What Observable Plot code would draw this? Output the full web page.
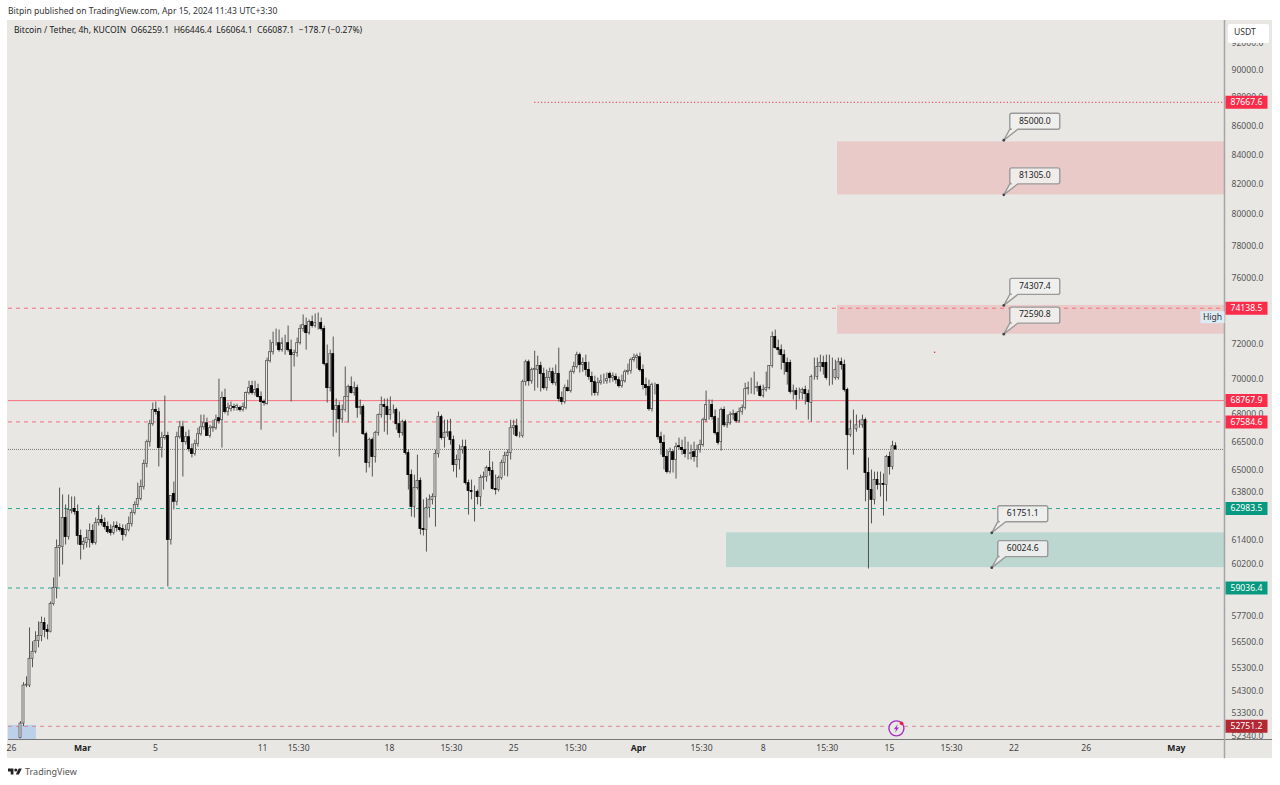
<!DOCTYPE html>
<html>
<head>
<meta charset="utf-8">
<script src="https://cdn.jsdelivr.net/npm/d3@7"></script>
<script src="https://cdn.jsdelivr.net/npm/@observablehq/plot@0.6"></script>
<style>
html,body{margin:0;padding:0;background:#fff;font-family:"Noto Sans",sans-serif;}
#page{position:relative;width:1280px;height:785px;overflow:hidden;}
#head{height:20px;line-height:23px;padding-left:8px;font-size:8.6px;color:#333;box-sizing:border-box;white-space:nowrap;}
#chart svg{display:block;}
#foot{position:absolute;left:8px;top:765px;display:flex;align-items:center;gap:3px;font-size:9px;color:#555;}
#unit{position:absolute;left:1228px;top:24px;width:41px;height:19px;line-height:17px;background:#fff;border-radius:2px;font-size:8.6px;color:#333;text-align:left;padding-left:6px;box-sizing:border-box;}
</style>
</head>
<body>
<div id="page">
<div id="head">Bitpin published on TradingView.com, Apr 15, 2024 11:43 UTC+3:30</div>
<div id="chart"></div>
<div id="unit">USDT</div>
<div id="foot"><svg width="14" height="11" viewBox="0 4 36 20"><path fill="#222" d="M14 6H0v8h7v8h7V6Zm14 16h-8l7.5-16h8L28 22Z"/><circle fill="#222" cx="20" cy="10" r="4"/></svg><span>TradingView</span></div>
</div>
<script>
const opens = [
52250,52870,54530,54530,55730,56050,56550,56780,57380,57060,
56970,58280,59040,60990,61040,62500,61540,62860,62960,62810,
61590,61140,61240,61390,61840,61240,62250,62400,62250,62040,
61890,61740,62090,61990,61940,61640,61890,62200,62760,63170,
63480,64100,65310,66480,67460,68240,68130,66160,66700,66810,
61390,63740,63330,66750,67290,66480,66750,66100,65840,66370,
66910,67290,67510,66810,67240,67240,67790,67680,68910,68130,
68290,68410,68350,68350,68240,68350,69190,69580,69190,69410,
68970,68690,68570,71010,71530,72060,72060,71650,72060,72060,
71650,71360,71480,72060,72890,73070,72650,73310,73070,73250,
73250,72890,70840,69470,71420,68240,68460,67730,68240,68970,
69530,69190,69470,68350,68410,66910,65360,66590,65680,66970,
67960,68520,68410,67960,68240,68240,67460,66970,67570,65890,
64720,63070,64040,64410,61940,61890,63010,63430,63580,65840,
67850,66700,66970,67020,66590,65250,65520,66050,66210,64300,
63890,63840,63840,63580,64570,64620,65100,64940,63990,63940,
64570,65360,65730,65890,67240,67350,66810,66810,69810,70950,
69860,70500,70500,70730,70270,69470,70040,70380,69750,70270,
68910,68690,69470,69300,70380,70670,71360,70790,70900,70500,
70100,69810,69190,69750,69860,69860,70270,70040,70100,69920,
69580,69860,70380,70440,71070,71190,71240,70500,69640,69530,
68290,69640,69640,66750,66430,65680,64880,65940,65520,66260,
66160,66050,65840,65840,65940,65680,66050,66320,67680,68520,
68520,67850,66970,66480,68240,67400,67510,67960,68020,67620,
68130,68350,69410,69470,69470,69470,69530,69020,69360,69470,
70730,72420,71770,71650,71360,70900,70900,69250,69300,69190,
69190,69360,69130,68630,70100,70100,70670,70900,70900,70040,
70040,70040,70040,70950,70790,69360,66860,67180,67180,67400,
67400,67680,64830,63940,63430,64460,64200,64250,64200,65680,
65150,66259.1];
const highs = [
52950,54660,54920,57150,56510,56970,57430,57660,57610,57290,
58370,59520,61390,64040,63680,63170,63680,63580,63580,63170,
61890,61490,61890,62200,62150,62500,63120,62650,62500,62300,
62150,62300,62300,62200,62150,62150,62550,62910,63330,64300,
64460,65520,66590,67680,68630,68690,68350,67020,69020,67020,
63430,64360,67020,67620,67620,67020,67130,66370,66590,67240,
67960,67960,67790,67400,67680,67960,69980,69250,69410,68630,
68690,68570,68570,68460,68630,69250,69860,69860,69860,69690,
69250,68800,71190,72240,72710,72890,72830,72360,72530,73070,
72240,71650,72360,73130,73730,73550,73430,73670,73790,73850,
73550,73070,71950,71650,72420,68860,68690,68520,70670,69640,
70100,69810,69640,68800,68520,67020,66700,66700,67070,68020,
68970,68860,68860,68970,68520,68350,68130,67680,67680,66050,
64990,64720,65780,64570,63430,63530,63680,63740,66050,68130,
67960,67680,67680,67730,66810,65780,66320,66590,66590,64460,
64460,64150,63940,64720,64880,65200,65990,65410,64720,64670,
65520,65940,66050,67680,67680,67730,67020,69920,71070,71070,
70610,71590,71300,70950,70610,70500,70610,70610,70790,71770,
69250,69640,69920,70500,70950,71530,71480,71190,71360,70950,
70380,70150,70040,70210,70270,70330,70380,70330,70270,70100,
70210,70500,70840,71190,71420,71420,71480,70790,70040,69920,
69750,69750,69690,67020,66860,66050,66160,66050,66430,66700,
66590,66750,66480,66320,66480,66320,66590,67790,69300,68800,
68800,68240,67790,68350,68410,67960,68130,68240,68130,68350,
68520,69750,69810,70040,70380,69810,69640,69640,70380,70730,
72710,72830,72240,71950,71650,71190,71070,69640,69470,69470,
69470,69580,69360,70210,71190,71190,71360,71300,71360,71360,
71190,71070,71190,71190,71070,69470,67680,68240,67960,67680,
67960,67790,65630,64990,64880,64880,64880,64780,65780,65940,
66530,66446.4];
const lows = [
52220,52740,54440,54440,55330,55960,56230,56510,56690,56600,
56920,58180,58520,59570,60150,61140,61390,62710,62650,61140,
60400,60890,60990,60990,61140,61140,62090,62090,61890,61690,
61590,61640,61790,61790,61340,61540,61790,62040,62650,63010,
63380,63940,65100,66210,67350,67960,65150,65630,66590,59090,
61140,62910,63120,66640,64620,66320,65940,65630,65730,66210,
66810,67130,66810,66700,67020,67130,67460,66160,68020,67910,
68130,68180,68180,68130,68130,68240,69080,69080,69020,68910,
67130,68460,68520,70900,71360,71890,71530,71530,71360,71530,
68690,70670,71240,71950,72710,71650,72530,72950,72950,72830,
72770,70730,68630,69250,66750,66970,65680,67510,68130,67510,
69130,69020,67790,67960,66860,64830,65100,64620,65360,66810,
67790,67020,66860,67680,68020,67130,66700,66810,65780,63940,
62550,62500,63940,61640,61590,60790,62500,63170,62040,65630,
66590,66160,66750,66320,64880,64570,64990,65840,64200,62650,
63430,62300,63170,63070,63940,64360,64670,63940,63680,63840,
64460,64670,64620,65520,66860,66750,66700,66700,69580,69580,
69690,69300,69470,69250,69360,69300,69860,69640,69580,68690,
68520,68570,69250,69190,70270,70560,70330,70380,70150,69920,
69020,69020,69020,69640,69690,69690,69750,69810,69690,69470,
69470,69750,70210,70270,70950,70560,70380,69360,69020,68180,
68130,69080,66590,65780,64990,64780,64780,64830,64510,66050,
65780,65630,65520,65520,65410,65100,65890,66210,67570,67680,
67680,66860,66320,66000,67290,67240,67400,67680,67510,67510,
67960,68240,69080,69130,69080,69250,68970,68910,69250,69360,
70610,71710,71360,70500,70210,69640,69130,68800,68240,68800,
68800,68520,67680,67570,69920,69920,70380,70210,69920,69580,
69640,69920,69920,70500,69250,64990,66750,65780,67020,67240,
67240,63330,59960,62200,63170,63940,63580,62600,63330,64720,
64990,66064.1];
const closes = [
52870,54530,54570,55730,56050,56550,56780,57380,57060,56970,
58280,59040,60990,61090,62500,61540,62910,62910,62810,61590,
61140,61290,61490,61840,61240,62250,62400,62250,62040,61790,
61740,62040,61990,61890,61640,61890,62200,62760,63170,63480,
64100,65310,66480,67460,68240,68130,66160,66700,66810,61390,
63630,63330,66750,67290,66480,66750,66100,65840,66370,66910,
67290,67510,66810,67240,67290,67680,67620,68910,68130,68350,
68460,68350,68460,68240,68410,69190,69470,69190,69360,68970,
68690,68630,71010,71530,72060,72060,71650,72060,72060,71650,
71360,71480,72060,72890,73130,72650,73310,73070,73250,73250,
72890,70840,69470,71420,68240,68460,67730,68240,68970,69530,
69190,69470,68350,68410,66910,65360,66590,65680,66970,67960,
68520,68410,67960,68240,68240,67460,66970,67570,65890,64720,
63070,64040,64410,61940,61890,63010,63430,63580,65840,67850,
66700,66970,67020,66590,65250,65520,66050,66210,64300,63890,
63840,63840,63580,64570,64620,65100,64940,63990,63940,64570,
65360,65730,65890,67240,67350,66810,66810,69810,70950,69860,
70500,70560,70730,70270,69470,70040,70380,69750,70270,68860,
68690,69470,69300,70380,70670,71360,70790,70900,70500,70100,
69810,69190,69750,69860,69860,69980,70040,70150,69920,69580,
69860,70380,70440,71070,71190,71300,70500,69640,69470,68290,
69640,69640,66750,66430,65680,64880,65940,65520,66210,66210,
66050,65840,65840,65890,65680,66050,66320,67680,68520,68520,
67850,66970,66430,68240,67400,67510,67960,68020,67620,68130,
68350,69410,69470,69470,69470,69530,69020,69360,69470,70730,
72420,71770,71650,71360,70900,70380,69250,69300,69080,69190,
69360,69130,68690,70100,70100,70670,70900,70670,70040,70040,
70040,70500,70950,70790,69360,66860,67180,67180,67400,67400,
67680,64830,63940,63430,64460,64200,64250,64200,65680,65150,
66260,66087.1];

const priceTicks = [92000,90000,88000,86000,84000,82000,80000,78000,76000,74000,72000,70000,68000,66500,65000,63800,62800,61400,60200,57700,56500,55300,54300,53300,52340];
const timeTicks = [-3,44.9,80.5,92.5,122.7,143.3,164,184.6,226.5,247,268.3,289,309.6,330.4,354.4];
const timeLabels = ["26","5","11","15:30","18","15:30","25","15:30","15:30","8","15:30","15","15:30","22","26"];
const monthTicks = [20.6,205.5,384.4];
const monthLabels = ["Mar","Apr","May"];

const tagPrices = [87667.6,74138.5,68767.9,67584.6,62983.5,59036.4,52751.2];
const tagColors = ["#fb2c4a","#fb2c4a","#fb2c4a","#fb2c4a","#089981","#089981","#b22833"];
const calloutPrices = [85000,81305,74307.4,72590.8,61751.1,60024.6];
const calloutBars = [327,327,327,327,323,323];

const bg = "#e8e7e4", ink = "#222", font = '"Noto Sans",sans-serif';
const bars = closes.map((c,i)=>({i,o:opens[i],h:highs[i],l:lows[i],c}));
const tags = tagPrices.map((v,i)=>({v,color:tagColors[i]}));
const callouts = calloutPrices.map((v,i)=>({v,bar:calloutBars[i]}));
const xMax = 400.4, yLow = 52189, yHigh = 93703;
const timeMap = new Map(timeTicks.map((t,i)=>[t,timeLabels[i]]));
const monthMap = new Map(monthTicks.map((t,i)=>[t,monthLabels[i]]));

const tagSymbol = {draw(c){c.moveTo(0,-6.5);c.lineTo(42,-6.5);c.lineTo(42,6.5);c.lineTo(0,6.5);c.closePath();}};
const highSymbol = {draw(c){c.moveTo(-24,-6);c.lineTo(0,-6);c.lineTo(0,6);c.lineTo(-24,6);c.closePath();}};
const bubbleSymbol = {draw(c){
  c.moveTo(0,0);c.lineTo(6,-11);c.lineTo(8,-11);
  c.arcTo(6,-11,6,-13,2);c.lineTo(6,-25);c.arcTo(6,-27,8,-27,2);
  c.lineTo(54,-27);c.arcTo(56,-27,56,-25,2);c.lineTo(56,-13);c.arcTo(56,-11,54,-11,2);
  c.lineTo(14,-11);c.closePath();}};
const boltSymbol = {draw(c){c.moveTo(1.5,-4.5);c.lineTo(-2.5,0.8);c.lineTo(-0.2,0.8);c.lineTo(-1.5,4.5);c.lineTo(2.5,-0.8);c.lineTo(0.2,-0.8);c.closePath();}};

const chart = Plot.plot({
  width:1280,height:738,marginTop:0,marginBottom:19,marginLeft:8,marginRight:56,
  style:{background:"linear-gradient(#e8e7e4,#e8e7e4) no-repeat 7px 0/1265px 100%",fontFamily:font,fontSize:"8.6px",overflow:"visible"},
  x:{type:"linear",domain:[-3.99,xMax],axis:null},
  y:{type:"log",domain:[yLow,yHigh],axis:null},
  marks:[
    Plot.rect([{a:-3.99,b:5.3,y1:yLow,y2:52790}],{x1:"a",x2:"b",y1:"y1",y2:"y2",fill:"#bcd0ea"}),
    Plot.rect([{a:271.7,b:xMax,y1:81305,y2:84880},{a:271.7,b:xMax,y1:72590.8,y2:74307.4}],{x1:"a",x2:"b",y1:"y1",y2:"y2",fill:"#f23645",fillOpacity:0.17}),
    Plot.rect([{a:234.8,b:xMax,y1:60024.6,y2:61751.1}],{x1:"a",x2:"b",y1:"y1",y2:"y2",fill:"#089981",fillOpacity:0.2}),
    Plot.ruleY([87667.6],{x1:171,x2:xMax,stroke:"#e8303f",strokeDasharray:"1.2 2.2"}),
    Plot.ruleY([74138.5,67584.6],{stroke:"#f7707c",strokeDasharray:"4 4"}),
    Plot.ruleY([68767.9],{stroke:"#f7707c"}),
    Plot.ruleY([66087.1],{stroke:"#777",strokeDasharray:"1 1"}),
    Plot.ruleY([62983.5,59036.4],{stroke:"#2aa88f",strokeDasharray:"4 4"}),
    Plot.ruleY([52751.2],{stroke:"#d98a9a",strokeDasharray:"4 4"}),
    Plot.ruleX(bars,{x:"i",y1:"l",y2:"h",stroke:"#444",strokeWidth:0.9}),
    Plot.rect(bars.filter(d=>d.c>=d.o),{x1:d=>d.i-0.33,x2:d=>d.i+0.33,y1:"o",y2:"c",fill:bg,stroke:"#555",strokeWidth:0.8}),
    Plot.rect(bars.filter(d=>d.c<d.o),{x1:d=>d.i-0.33,x2:d=>d.i+0.33,y1:"o",y2:"c",fill:"#000",stroke:"#000",strokeWidth:0.8}),
    Plot.axisY({anchor:"right",ticks:priceTicks,tickFormat:d=>d.toFixed(1),tickSize:0,tickPadding:7,label:null,fill:"#555",fontSize:8.6}),
    Plot.axisX({anchor:"bottom",ticks:timeTicks,tickFormat:d=>timeMap.get(d),tickSize:0,tickPadding:5.5,label:null,fill:"#444",fontSize:8.6}),
    Plot.axisX({anchor:"bottom",ticks:monthTicks,tickFormat:d=>monthMap.get(d),tickSize:0,tickPadding:5.5,label:null,fill:"#222",fontSize:8.6,fontWeight:"bold"}),
    Plot.ruleY([yLow],{x1:-3.99,x2:416.4,stroke:"#777",strokeWidth:1}),
    Plot.ruleX([xMax],{y1:yHigh,y2:51380,stroke:"#a5a5a5",strokeWidth:1.5}),
    Plot.dot(tags,{y:"v",frameAnchor:"right",symbol:tagSymbol,fill:"color",stroke:"none",dx:1}),
    Plot.text(tags,{y:"v",frameAnchor:"right",textAnchor:"start",text:d=>d.v.toFixed(1),fill:"#fff",dx:6,fontSize:8.6}),
    Plot.dot([73600],{y:d=>d,frameAnchor:"right",symbol:highSymbol,fill:"#dcecf5",stroke:"none"}),
    Plot.text(["High"],{y:()=>73600,frameAnchor:"right",textAnchor:"middle",text:d=>d,dx:-12,fill:"#333",fontSize:8.6}),
    Plot.dot(callouts,{x:"bar",y:"v",symbol:bubbleSymbol,fill:"#f0efed",fillOpacity:0.9,stroke:"#9a9a9a",strokeWidth:1.4}),
    Plot.dot(callouts,{x:"bar",y:"v",r:1.4,fill:"#444",stroke:"none"}),
    Plot.text(callouts,{x:"bar",y:"v",text:d=>d.v.toFixed(1),dx:31,dy:-19.5,fill:"#222",fontSize:8.6}),
    Plot.dot([{b:304,v:71530}],{x:"b",y:"v",r:0.8,fill:"#e8303f",stroke:"none"}),
    Plot.dot([{b:291.3,v:52665}],{x:"b",y:"v",r:7.5,fill:bg,stroke:"#a32cc4",strokeWidth:1.4}),
    Plot.dot([{b:291.3,v:52665}],{x:"b",y:"v",symbol:boltSymbol,fill:"#a32cc4",stroke:"none"}),
    Plot.dot([{b:293,v:52880}],{x:"b",y:"v",r:1.8,fill:"#f01e3c",stroke:"none"}),
    Plot.text(["Bitcoin / Tether, 4h, KUCOIN  O66259.1  H66446.4  L66064.1  C66087.1  −178.7 (−0.27%)"],{frameAnchor:"top-left",textAnchor:"start",text:d=>d,dx:5.5,dy:6,fill:ink,fontSize:8.6})
  ]
});
document.getElementById("chart").appendChild(chart);
</script>
</body>
</html>
